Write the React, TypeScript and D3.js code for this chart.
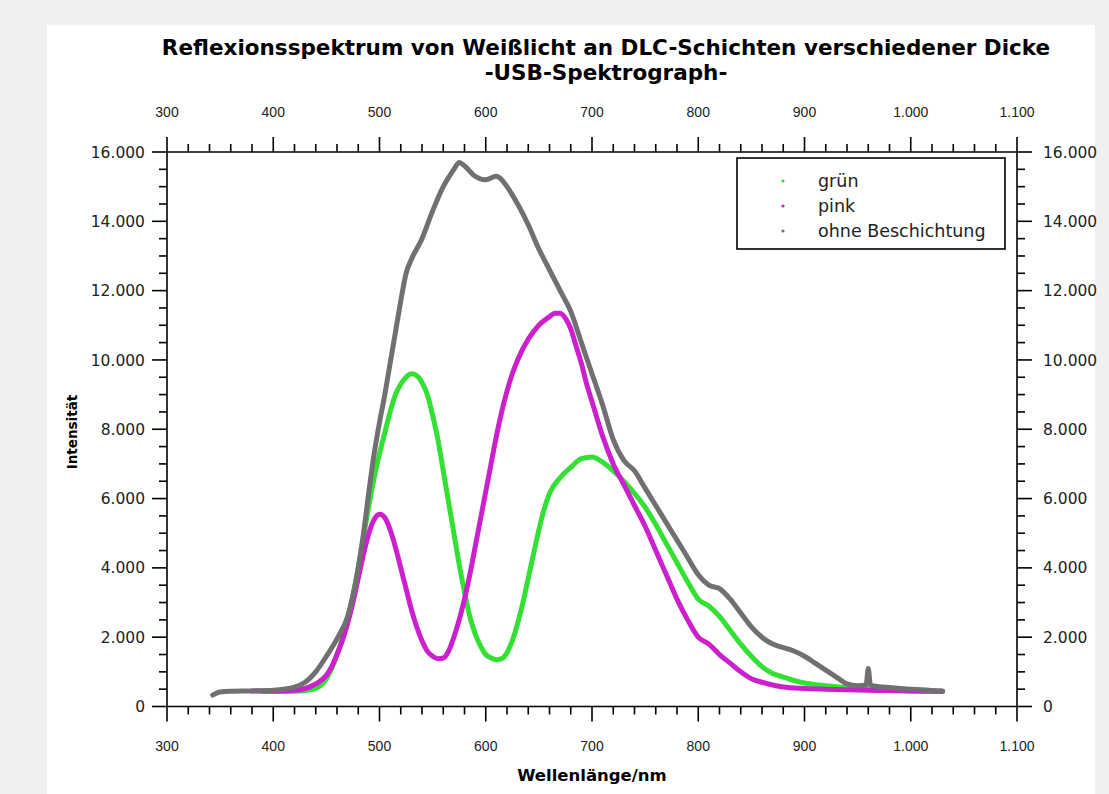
import React from "react";
import * as d3 from "d3";

const title1 = "Reflexionsspektrum von Weißlicht an DLC-Schichten verschiedener Dicke";
const title2 = "-USB-Spektrograph-";
const xLabel = "Wellenlänge/nm";
const yLabel = "Intensität";

const xTicks = [300, 400, 500, 600, 700, 800, 900, 1000, 1100];
const yTicks = [0, 2000, 4000, 6000, 8000, 10000, 12000, 14000, 16000];

const seriesNames = ["grün", "pink", "ohne Beschichtung"];
const seriesColors = ["#33e033", "#cc20cc", "#707070"];

const gruenNm = [390, 400, 420, 430, 440, 450, 455, 460, 465, 470, 475, 480, 485, 490, 495, 500, 505, 510, 515, 520, 525, 530, 535, 540, 545, 550, 555, 560, 565, 570, 575, 580, 585, 590, 595, 600, 605, 610, 615, 620, 625, 630, 635, 640, 645, 650, 655, 660, 670, 680, 690, 700, 710, 720, 730, 740, 750, 760, 770, 780, 790, 800, 810, 820, 830, 840, 850, 860, 870, 880, 890, 900, 920, 940, 960, 980, 1000, 1030];
const gruenVal = [430, 430, 440, 460, 520, 800, 1100, 1500, 1950, 2500, 3200, 4000, 4900, 5800, 6600, 7300, 7900, 8500, 9000, 9300, 9500, 9600, 9550, 9350, 9000, 8400, 7700, 6800, 5900, 5000, 4100, 3300, 2600, 2100, 1750, 1500, 1400, 1350, 1380, 1550, 1900, 2400, 3000, 3700, 4400, 5100, 5700, 6150, 6600, 6900, 7150, 7200, 7050, 6800, 6500, 6150, 5750, 5250, 4700, 4150, 3600, 3100, 2900, 2600, 2200, 1800, 1450, 1150, 950, 850, 750, 680, 600, 540, 500, 470, 450, 430];

const pinkNm = [380, 400, 420, 430, 440, 450, 455, 460, 465, 470, 475, 480, 485, 490, 495, 500, 505, 510, 515, 520, 525, 530, 535, 540, 545, 550, 555, 560, 565, 570, 575, 580, 585, 590, 595, 600, 605, 610, 615, 620, 625, 630, 640, 650, 660, 665, 670, 675, 680, 685, 690, 695, 700, 710, 720, 730, 740, 750, 760, 770, 780, 790, 800, 810, 820, 830, 840, 850, 860, 870, 880, 900, 920, 940, 960, 980, 1000, 1030];
const pinkVal = [450, 450, 470, 520, 650, 900, 1150, 1500, 1900, 2400, 3000, 3700, 4400, 5000, 5400, 5550, 5450, 5100, 4600, 4000, 3400, 2800, 2300, 1900, 1600, 1450, 1380, 1400, 1600, 2000, 2500, 3100, 3800, 4600, 5400, 6200, 7000, 7800, 8500, 9100, 9600, 10000, 10600, 11000, 11250, 11350, 11350, 11200, 10900, 10400, 9900, 9300, 8800, 7800, 7000, 6400, 5800, 5200, 4500, 3800, 3100, 2500, 2000, 1800, 1500, 1250, 1000, 800, 700, 620, 560, 520, 500, 480, 470, 460, 450, 440];

const ohneNm = [343, 350, 360, 380, 400, 420, 430, 440, 450, 460, 470, 475, 480, 485, 490, 495, 500, 505, 510, 515, 520, 525, 530, 540, 550, 560, 570, 575, 580, 590, 600, 610, 615, 620, 630, 640, 650, 660, 670, 680, 690, 700, 710, 720, 730, 740, 750, 760, 770, 780, 790, 800, 810, 820, 830, 840, 850, 860, 870, 880, 890, 900, 910, 920, 930, 940, 950, 958, 960, 962, 970, 980, 990, 1000, 1010, 1020, 1030];
const ohneVal = [330, 420, 440, 450, 470, 560, 700, 1000, 1450, 1950, 2600, 3200, 4000, 5000, 6200, 7300, 8200, 9000, 9900, 10800, 11700, 12500, 12900, 13500, 14300, 15000, 15500, 15700, 15600, 15300, 15200, 15300, 15200, 15000, 14500, 13900, 13200, 12600, 12000, 11400, 10500, 9600, 8700, 7700, 7100, 6800, 6300, 5800, 5300, 4800, 4300, 3800, 3500, 3400, 3100, 2700, 2300, 2000, 1800, 1700, 1600, 1450, 1250, 1050, 850, 650, 600, 620, 1100, 620, 570, 550, 520, 500, 480, 460, 450];

const W = 1109;
const H = 794;
const left = 167;
const right = 1017;
const top = 152;
const bottom = 706.5;

const fmt = (v: number) => d3.format(",")(v).replace(/,/g, ".");

export default function App() {
  const x = d3.scaleLinear().domain([300, 1100]).range([left, right]);
  const y = d3.scaleLinear().domain([0, 16000]).range([bottom, top]);
  const xMinor = d3.range(300, 1101, 20).filter((v) => v % 100 !== 0);
  const yMinor = d3.range(0, 16001, 500).filter((v) => v % 2000 !== 0);

  const line = d3
    .line<[number, number]>()
    .x((d) => x(d[0]))
    .y((d) => y(d[1]))
    .curve(d3.curveMonotoneX);

  const series = [
    gruenNm.map((n, i) => [n, gruenVal[i]] as [number, number]),
    pinkNm.map((n, i) => [n, pinkVal[i]] as [number, number]),
    ohneNm.map((n, i) => [n, ohneVal[i]] as [number, number]),
  ];

  const tickFont = "'Liberation Sans', Arial, sans-serif";
  const yFont = "'DejaVu Sans', Verdana, sans-serif";
  const ax = { stroke: "#000", strokeWidth: 1.6 };

  return (
    <svg width={W} height={H} style={{ position: "absolute", left: 0, top: 0 }}>
      <rect x={0} y={0} width={W} height={H} fill="#f0f0f0" />
      <rect x={47} y={25} width={1048} height={H - 25} fill="#fff" />

      <text x={606} y={55} textAnchor="middle" fontFamily={yFont} fontWeight="bold" fontSize={21.5} fill="#000">
        {title1}
      </text>
      <text x={606} y={80} textAnchor="middle" fontFamily={yFont} fontWeight="bold" fontSize={21.5} fill="#000">
        {title2}
      </text>

      {series.map((s, i) => (
        <path key={i} d={line(s) || ""} fill="none" stroke={seriesColors[i]} strokeWidth={5} strokeLinejoin="round" strokeLinecap="round" />
      ))}

      <line x1={left} x2={right} y1={top} y2={top} {...ax} />
      <line x1={left} x2={right} y1={bottom} y2={bottom} {...ax} />
      <line x1={left} x2={left} y1={top} y2={bottom} {...ax} />
      <line x1={right} x2={right} y1={top} y2={bottom} {...ax} />

      {xTicks.map((t) => (
        <g key={"xt" + t}>
          <line x1={x(t)} x2={x(t)} y1={bottom} y2={bottom + 15} {...ax} />
          <line x1={x(t)} x2={x(t)} y1={top} y2={top - 15} {...ax} />
          <text x={x(t)} y={751} textAnchor="middle" fontFamily={tickFont} fontSize={14} fill="#222">
            {fmt(t)}
          </text>
          <text x={x(t)} y={117} textAnchor="middle" fontFamily={tickFont} fontSize={14} fill="#222">
            {fmt(t)}
          </text>
        </g>
      ))}
      {xMinor.map((t) => (
        <g key={"xm" + t}>
          <line x1={x(t)} x2={x(t)} y1={bottom} y2={bottom + 8} {...ax} />
          <line x1={x(t)} x2={x(t)} y1={top} y2={top - 8} {...ax} />
        </g>
      ))}
      {yTicks.map((t) => (
        <g key={"yt" + t}>
          <line x1={left - 15} x2={left} y1={y(t)} y2={y(t)} {...ax} />
          <line x1={right} x2={right + 15} y1={y(t)} y2={y(t)} {...ax} />
          <text x={145} y={y(t)} dy="0.36em" textAnchor="end" fontFamily={yFont} fontSize={15.5} fill="#222">
            {fmt(t)}
          </text>
          <text x={1043} y={y(t)} dy="0.36em" textAnchor="start" fontFamily={yFont} fontSize={15.5} fill="#222">
            {fmt(t)}
          </text>
        </g>
      ))}
      {yMinor.map((t) => (
        <g key={"ym" + t}>
          <line x1={left - 8} x2={left} y1={y(t)} y2={y(t)} {...ax} />
          <line x1={right} x2={right + 8} y1={y(t)} y2={y(t)} {...ax} />
        </g>
      ))}

      <text x={592} y={781} textAnchor="middle" fontFamily={yFont} fontWeight="bold" fontSize={16.5} fill="#000">
        {xLabel}
      </text>
      <text transform="translate(77,432) rotate(-90)" textAnchor="middle" fontFamily={yFont} fontWeight="bold" fontSize={13.5} fill="#000">
        {yLabel}
      </text>

      <rect x={737} y={158} width={268} height={91} fill="#fff" stroke="#000" strokeWidth={1.6} />
      {seriesNames.map((n, i) => (
        <g key={n}>
          <circle cx={783} cy={181 + i * 25} r={1.6} fill={seriesColors[i]} />
          <text x={818} y={181 + i * 25} dy="0.35em" fontFamily={yFont} fontSize={17.5} fill="#222">
            {n}
          </text>
        </g>
      ))}
    </svg>
  );
}
